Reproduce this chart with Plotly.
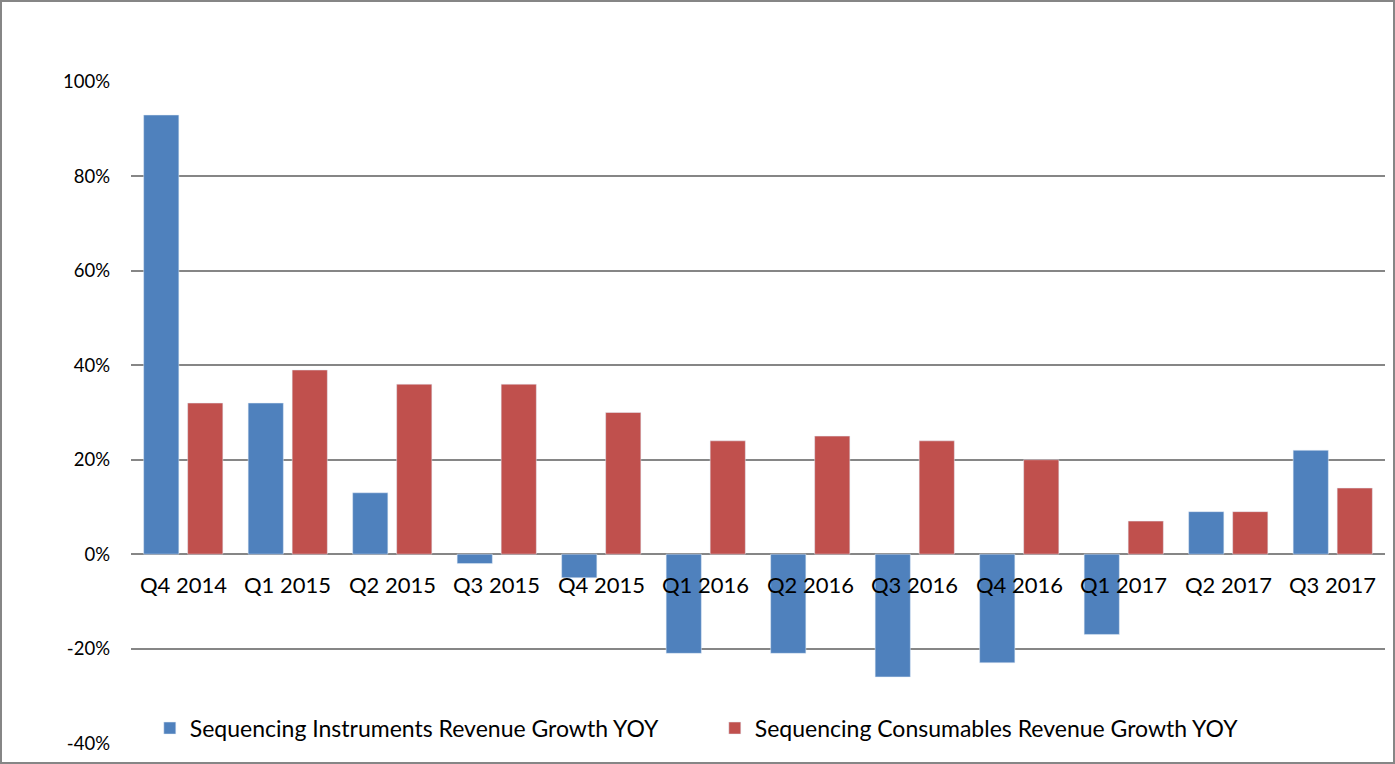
import plotly.graph_objects as go

"""
data
"""
quarters = ["Q4 2014", "Q1 2015", "Q2 2015", "Q3 2015", "Q4 2015", "Q1 2016",
            "Q2 2016", "Q3 2016", "Q4 2016", "Q1 2017", "Q2 2017", "Q3 2017"]
instruments_growth = [93, 32, 13, -2, -5, -21, -21, -26, -23, -17, 9, 22]
consumables_growth = [32, 39, 36, 36, 30, 24, 25, 24, 20, 7, 9, 14]
y_ticks = [-40, -20, 0, 20, 40, 60, 80, 100]
y_tick_labels = [f"{v}%" for v in y_ticks]

font_family = "Lato, Carlito, Calibri, sans-serif"

fig = go.Figure()
fig.add_bar(x=quarters, y=instruments_growth, name="Sequencing Instruments Revenue Growth YOY",
            marker_color="#4f81bd")
fig.add_bar(x=quarters, y=consumables_growth, name="Sequencing Consumables Revenue Growth YOY",
            marker_color="#c0504d")

# category labels sit right under the zero line, like excel does it
for q in quarters:
    fig.add_annotation(x=q, y=0, text=q, showarrow=False, yanchor="top", yshift=-15,
                       font=dict(size=22, color="#000000", family=font_family))

# grey frame round the whole chart
fig.add_shape(type="rect", xref="paper", yref="paper",
              x0=-130 / 1254, x1=1 + 9 / 1254, y0=-19 / 663, y1=1 + 80 / 663,
              line=dict(color="#868686", width=2), fillcolor="rgba(0,0,0,0)", layer="below")

fig.update_layout(
    width=1395,
    height=764,
    margin=dict(l=131, r=10, t=81, b=20),
    plot_bgcolor="white",
    paper_bgcolor="white",
    barmode="group",
    bargap=0.158,
    bargroupgap=0.2,
    font=dict(family=font_family, color="#000000"),
    legend=dict(orientation="h", x=0.015, y=0.024, xanchor="left", yanchor="middle",
                bgcolor="rgba(0,0,0,0)", font=dict(size=23), entrywidth=520,
                entrywidthmode="pixels", itemwidth=30),
    showlegend=True,
)
fig.update_xaxes(showticklabels=False, showgrid=False, zeroline=False, showline=False)
fig.update_yaxes(range=[-40.2, 100.2], tickvals=y_ticks, ticktext=y_tick_labels, showgrid=True,
                 gridcolor="#868686", gridwidth=2, zeroline=True, zerolinecolor="#868686",
                 zerolinewidth=2, showline=False, ticks="", ticklabelstandoff=20,
                 tickfont=dict(size=18.5, color="#000000"))

fig.write_html("out.html", config={"displayModeBar": False},
               post_script="document.body.style.margin='0';")
